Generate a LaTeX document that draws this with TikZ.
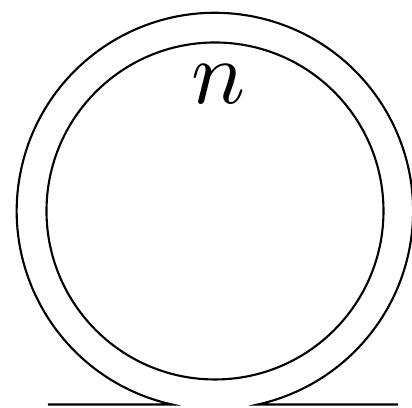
\documentclass[tikz,border=0pt]{standalone}
\usepackage{tikz}
\usetikzlibrary{calc}

\begin{document}
\begin{tikzpicture}[line width=0.6pt]
  \useasboundingbox (-2.15,-1.97) rectangle (1.97,2.11);
  \coordinate (lfoot) at (-1.67,-1.935);
  \coordinate (lend) at (-0.43,-1.935);
  \coordinate (rfoot) at (1.83,-1.935);
  \draw[line join=miter] (lfoot) -- (lend)
    arc[start angle=257.5, end angle=-77.5, radius=1.982] -- (rfoot);
  \draw (0,0) circle[radius=1.685];
  \node[scale=2.56] (lbl) at (0.04,1.27) {$n$};
\end{tikzpicture}
\end{document}
